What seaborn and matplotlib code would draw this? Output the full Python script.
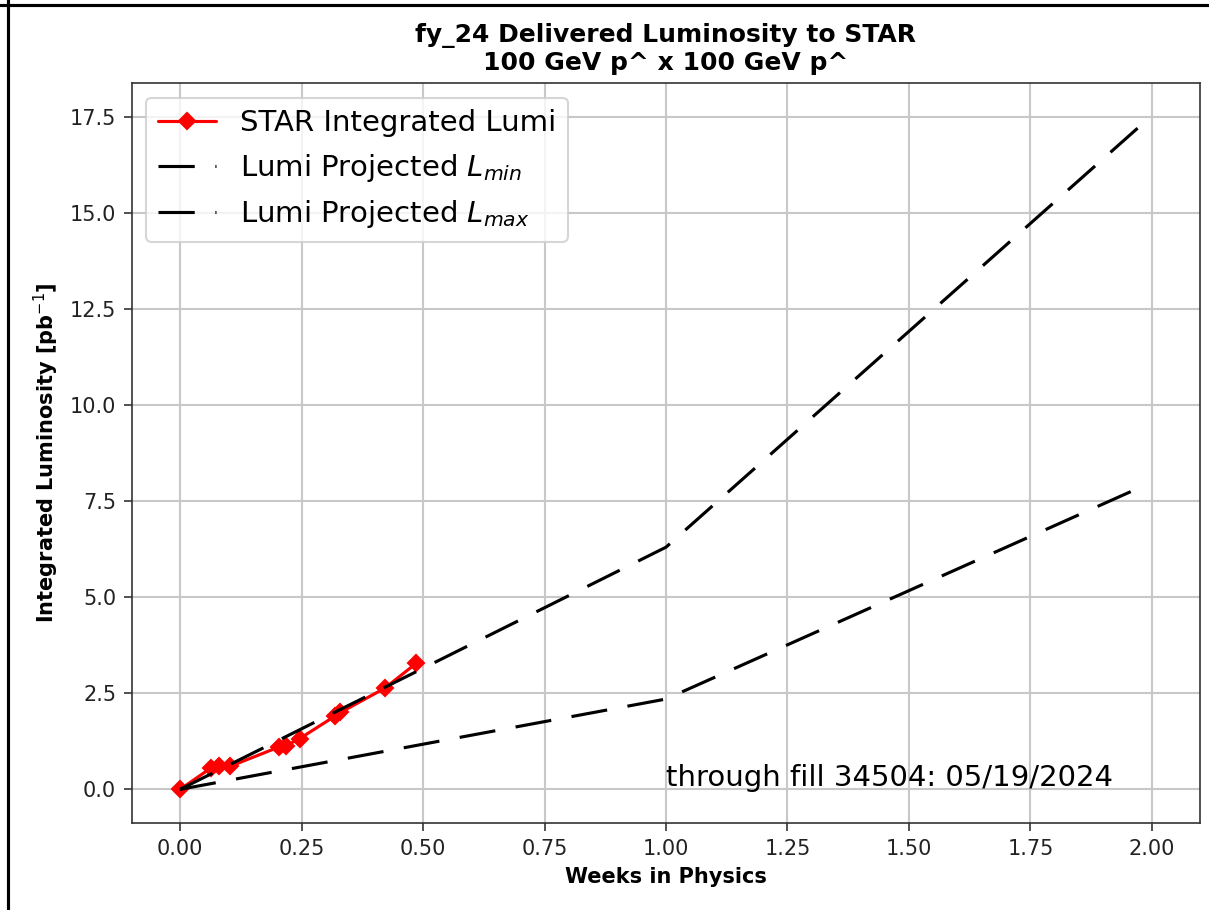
import numpy as np
import pandas as pd
import matplotlib
matplotlib.use("Agg")
import matplotlib.pyplot as plt
from matplotlib.lines import Line2D
import seaborn as sns

# STAR delivered luminosity (weeks in physics vs pb^-1)
star_weeks = [0.0, 0.064, 0.080, 0.103, 0.203, 0.217, 0.246, 0.318, 0.330, 0.421, 0.486]
star_lumi = [0.0, 0.56, 0.60, 0.60, 1.10, 1.13, 1.32, 1.90, 2.00, 2.63, 3.28]

# projections
proj_weeks = [0.0, 1.0, 1.975]
proj_lmin = [0.0, 2.35, 7.85]
proj_lmax = [0.0, 6.3, 17.25]

fill_text = "through fill 34504: 05/19/2024"

sns.set_style("ticks")
plt.rcParams['font.family'] = ['DejaVu Sans']
plt.rcParams['text.color'] = 'black'
plt.rcParams['axes.labelcolor'] = 'black'

fig = plt.figure(figsize=(1209 / 150, 910 / 150), dpi=150)
ax = fig.add_axes([0.109, 0.0956, 0.8836, 0.8132])

dash = (0, (11.6, 6.6))
sns.lineplot(x=star_weeks, y=star_lumi, ax=ax, color="red", marker="D",
             markersize=5.5, mec="red", mew=1, lw=1.5, label="STAR Integrated Lumi")
sns.lineplot(x=proj_weeks, y=proj_lmin, ax=ax, color="black", lw=1.5,
             linestyle=dash, label="Lumi Projected $L_{min}$")
sns.lineplot(x=proj_weeks, y=proj_lmax, ax=ax, color="black", lw=1.5,
             linestyle=dash, label="Lumi Projected $L_{max}$")

ax.grid(True, color="#c8c8c8", lw=1)
ax.set_axisbelow(True)
for s in ax.spines.values():
    s.set_visible(True)
    s.set_color("#333333")
ax.tick_params(labelsize=10, colors="#333333", labelcolor="#222222", length=4)

ax.set_xlim(-0.0994, 2.099)
ax.set_ylim(-0.875, 18.375)
ax.set_xticks(np.arange(0, 2.01, 0.25))
ax.set_yticks(np.arange(0, 17.6, 2.5))
ax.xaxis.set_major_formatter(matplotlib.ticker.FormatStrFormatter("%.2f"))
ax.yaxis.set_major_formatter(matplotlib.ticker.FormatStrFormatter("%.1f"))

ax.set_xlabel("Weeks in Physics", fontweight="bold", fontsize=10)
ax.set_ylabel("Integrated Luminosity [pb$^{-1}$]", fontweight="bold", fontsize=10)
ax.set_title("fy_24 Delivered Luminosity to STAR\n100 GeV p^ x 100 GeV p^",
             fontweight="bold", fontsize=12)

ax.text(0.5, 0.05, fill_text, transform=ax.transAxes, fontsize=14)
ax.legend(loc="upper left", fontsize=14)

# screenshot border on top and left
fig.add_artist(Line2D([0, 1], [0.9945, 0.9945], color="black", lw=1.5, transform=fig.transFigure))
fig.add_artist(Line2D([0.0066, 0.0066], [0, 1], color="black", lw=1.5, transform=fig.transFigure))

fig.savefig("out.png", dpi=150)
